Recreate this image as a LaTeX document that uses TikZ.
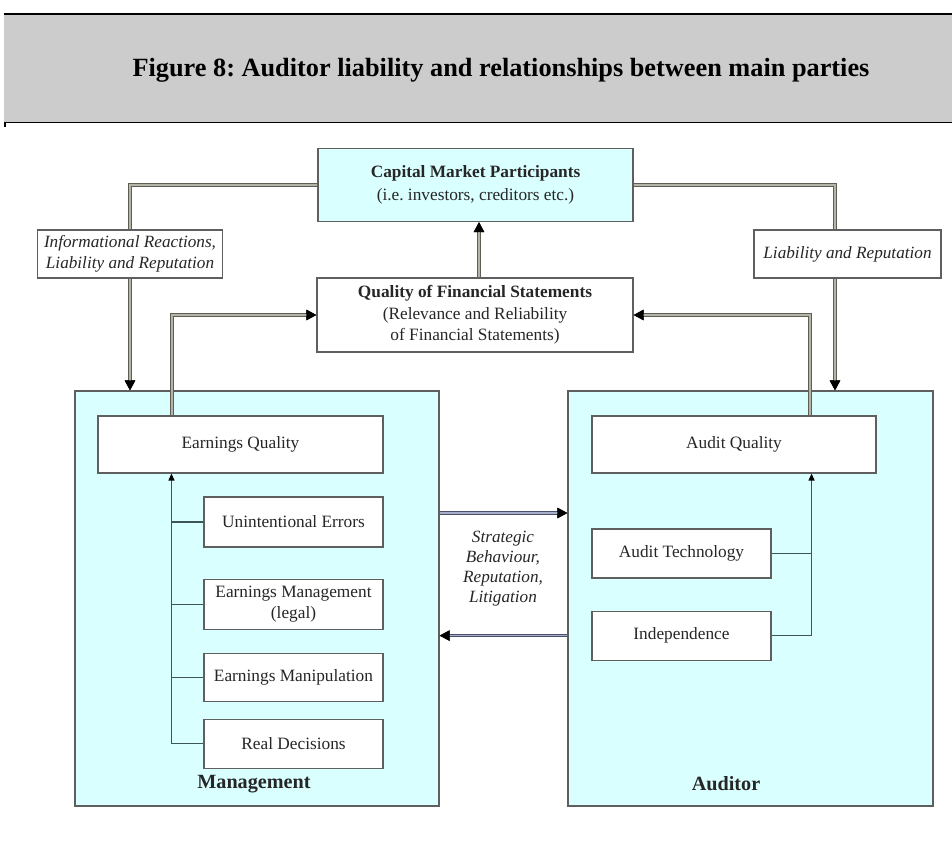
\documentclass[tikz,border=0pt]{standalone}
\usepackage{fontspec}
\setmainfont{Liberation Serif}
\usetikzlibrary{arrows.meta,positioning}
\definecolor{partycyan}{HTML}{DAFFFF}
\definecolor{bandgray}{HTML}{CCCCCC}
\definecolor{edgegray}{HTML}{5F5F5F}
\definecolor{pipedark}{HTML}{5E5E54}
\definecolor{pipelight}{HTML}{B4B4A8}
\definecolor{linkdark}{HTML}{4A4F6E}
\definecolor{linklight}{HTML}{A9AEC8}
\definecolor{twiggray}{HTML}{3F5555}
\definecolor{ink}{HTML}{262626}
\frenchspacing

\begin{document}
\begin{tikzpicture}[
    x=1pt, y=-1pt,
    text=ink,
    box/.style={
        draw=edgegray,
        line width=1.1pt,
        fill=white,
        inner sep=0pt,
        align=center,
        font=\fontsize{17.3}{21.5}\selectfont
    },
    party/.style={draw=edgegray, line width=1.1pt, fill=partycyan, inner sep=0pt},
    note/.style={box, font=\fontsize{17.2}{20.5}\selectfont\itshape},
    partylabel/.style={font=\fontsize{20.2}{24}\selectfont\bfseries},
    pipe/.style={line width=1.4pt, draw=pipelight,
        preaction={draw=pipedark, line width=3.6pt}},
    link/.style={line width=1.1pt, draw=linklight,
        preaction={draw=linkdark, line width=3.2pt}},
    arrowed/.style={-{Triangle[length=10pt,width=10pt,color=black]}},
    twig/.style={line width=1.2pt, draw=twiggray},
    tip/.style={twig, -{Triangle[length=7pt,width=6pt,color=black]}}
]
\useasboundingbox (0,0) rectangle (952,859);

% title band
\fill[bandgray] (4,15) rectangle (952,122);
\draw[line width=2.4pt] (4,14) -- (952,14);
\draw[line width=1.2pt] (5,127) -- (5,122.5) -- (952,122.5);
\node[font=\fontsize{26.3}{31}\selectfont\bfseries, text=black] (title) at (501,70)
    {Figure 8: Auditor liability and relationships between main parties};

% parties
\node[party, minimum width=315, minimum height=73, align=center,
      font=\fontsize{17.3}{22.5}\selectfont] (cmp) at (475.5,185)
    {\textbf{Capital Market Participants}\\(i.e. investors, creditors etc.)};
\node[box, minimum width=316, minimum height=74] (qfs) at (475,315)
    {\textbf{Quality of Financial Statements}\\(Relevance and Reliability\\of Financial Statements)};
\node[note, minimum width=185, minimum height=48] (info) at (130,254)
    {Informational Reactions,\\Liability and Reputation};
\node[note, minimum width=187, minimum height=48] (liab) at (847.5,254)
    {Liability and Reputation};

\node[party, minimum width=364, minimum height=415] (mgmt) at (257,598.5) {};
\node[party, minimum width=365, minimum height=415] (auditor) at (750.5,598.5) {};
\node[partylabel] (mgmtlabel) at (254,784) {Management};
\node[partylabel] (auditorlabel) at (726,784) {Auditor};

% management side
\node[box, minimum width=285, minimum height=57] (eq) at (240.5,444.5) {Earnings Quality};
\node[box, minimum width=179, minimum height=50] (ue) at (293.5,522) {Unintentional Errors};
\node[box, minimum width=179, minimum height=50, below=31pt of ue] (em)
    {Earnings Management\\(legal)};
\node[box, minimum width=179, minimum height=48, below=23pt of em] (manip)
    {Earnings Manipulation};
\node[box, minimum width=179, minimum height=49, below=17pt of manip] (rd)
    {Real Decisions};

% auditor side
\node[box, minimum width=284, minimum height=57] (aq) at (734,444.5) {Audit Quality};
\node[box, minimum width=179, minimum height=49] (at) at (681.5,553.5) {Audit Technology};
\node[box, minimum width=179, minimum height=49, below=32pt of at] (ind) {Independence};

\node[font=\fontsize{17.2}{20}\selectfont\itshape, align=center] (strat) at (503,569)
    {Strategic\\Behaviour,\\Reputation,\\Litigation};

% outer connectors
\draw[pipe] (cmp.west) -| (info.north);
\draw[pipe, arrowed] (info.south) -- (info.south |- mgmt.north);
\draw[pipe] (cmp.east) -| ([xshift=-12.5pt]liab.north);
\draw[pipe, arrowed] ([xshift=-12.5pt]liab.south) -- ([xshift=-12.5pt]liab.south |- auditor.north);
\draw[pipe, arrowed] ([xshift=4pt]qfs.north) -- ([xshift=4pt]qfs.north |- cmp.south);
\draw[pipe, arrowed] ([xshift=-68.5pt]eq.north) |- (qfs.west);
\draw[pipe, arrowed] ([xshift=76pt]aq.north) |- (qfs.east);

\draw[link, arrowed] ([yshift=85.5pt]mgmt.east) -- ([yshift=85.5pt]mgmt.east -| auditor.west);
\draw[link, arrowed] (auditor.west |- ind.west) -- (mgmt.east |- ind.west);

% feeding lines
\coordinate (mspine) at ([xshift=-32pt]ue.west);
\draw[tip] (rd.west) -| (mspine |- eq.south);
\foreach \leaf in {ue,em,manip}
    \draw[twig] (\leaf.west) -- (\leaf.west -| mspine);
\coordinate (aspine) at ([xshift=40pt]at.east);
\draw[tip] (ind.east) -| (aspine |- aq.south);
\draw[twig] (at.east) -- (at.east -| aspine);

\end{tikzpicture}
\end{document}
